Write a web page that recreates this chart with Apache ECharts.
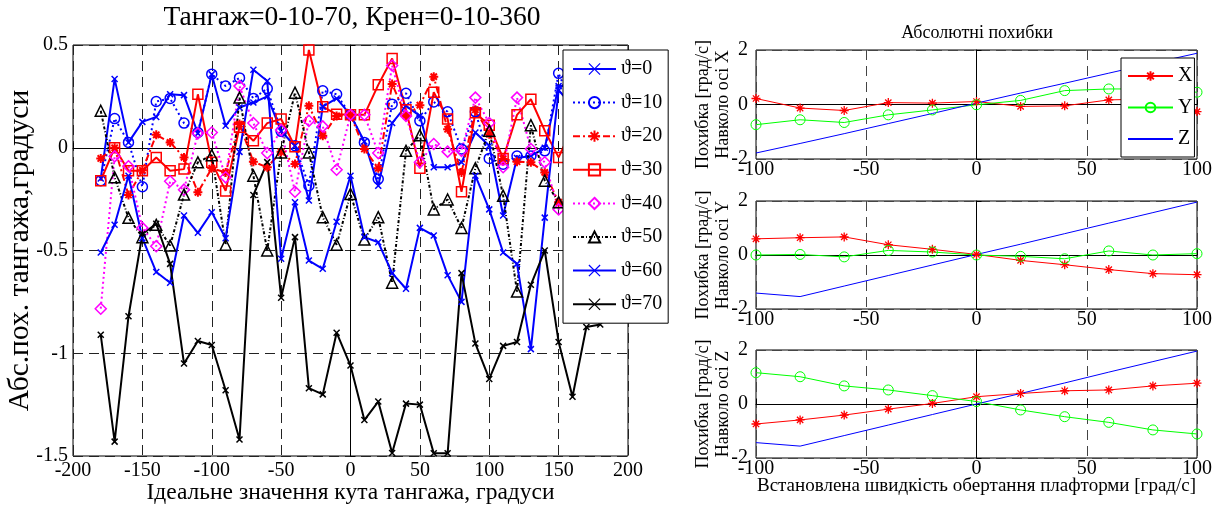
<!DOCTYPE html>
<html><head><meta charset="utf-8">
<script src="https://cdn.jsdelivr.net/npm/echarts/dist/echarts.min.js"></script>
<style>html,body{margin:0;padding:0;background:#fff}#c{width:1227px;height:506px}</style>
</head><body><div id="c"></div>
<script>
// ---------- Left chart data ----------
const angles = [-180,-170,-160,-150,-140,-130,-120,-110,-100,-90,-80,-70,-60,-50,-40,-30,-20,-10,0,10,20,30,40,50,60,70,80,90,100,110,120,130,140,150,160,170,180];
const th0  = [-0.15,0.335,0.026,0.126,0.15,0.26,0.256,0.07,0.357,0.107,0.196,0.22,0.25,0.08,0.01,-0.257,0.2,0.24,0.16,0.03,-0.185,0.12,0.204,0.155,-0.095,-0.095,-0.071,0.074,0.01,-0.33,-0.05,-0.04,0.0,0.3,0.3,0.2,0.1];
const th10 = [-0.16,0.142,0.026,-0.19,0.225,0.24,0.12,0.074,0.358,0.30,0.34,0.24,0.288,0.08,0.01,-0.185,0.277,0.26,0.16,0.026,-0.152,0.212,0.265,0.131,0.223,0.175,-0.006,0.175,-0.052,-0.08,-0.04,-0.04,-0.015,0.362,0.2,0.1,0.05];
const th20 = [-0.052,0.0,-0.23,-0.11,0.063,0.026,-0.047,-0.217,-0.1,-0.12,0.115,-0.068,-0.095,-0.02,-0.079,0.204,0.058,0.155,0.16,-0.006,-0.1,0.31,0.155,0.207,0.346,0.09,-0.12,0.185,0.066,-0.055,-0.068,-0.071,-0.12,-0.265,-0.2,-0.1,-0.1];
const th30 = [-0.16,0.0,-0.112,-0.112,-0.047,-0.112,-0.104,0.26,-0.07,-0.21,0.1,0.034,0.12,0.14,0.005,0.476,0.2,0.163,0.16,0.16,0.306,0.434,0.185,-0.1,0.27,0.14,-0.214,0.17,0.11,-0.052,0.16,0.236,0.083,-0.047,0.1,0.05,0.0];
const th40 = [-0.783,-0.042,-0.09,-0.39,-0.479,-0.163,-0.204,0.07,0.074,-0.144,0.30,0.12,-0.026,0.086,-0.214,0.131,0.104,-0.107,0.16,0.16,-0.026,0.40,0.155,-0.071,0.018,-0.019,-0.015,0.244,0.12,-0.095,0.244,-0.006,-0.071,-0.30,-0.2,-0.1,-0.1];
const th50 = [0.18,-0.144,-0.341,-0.435,-0.375,-0.476,-0.228,-0.071,-0.036,-0.472,0.244,-0.136,-0.5,-0.023,0.268,-0.023,-0.338,-0.472,-0.225,-0.447,-0.338,-0.657,-0.015,0.061,-0.30,-0.252,-0.39,-0.10,0.083,-0.233,-0.70,0.11,-0.16,-0.265,-0.3,-0.3,-0.3];
const th60 = [-0.51,-0.375,-0.136,-0.44,-0.605,-0.657,-0.33,-0.414,-0.314,-0.44,-0.02,0.38,0.325,-0.54,-0.265,-0.549,-0.589,-0.36,-0.136,-0.435,-0.46,-0.61,-0.686,-0.39,-0.427,-0.62,-0.75,-0.136,-0.30,-0.51,-0.565,-0.98,-0.34,0.28,0.2,0.1,0.0];
const th70 = [-0.91,-1.43,-0.82,-0.42,-0.37,-0.565,-1.05,-0.94,-0.96,-1.18,-1.42,-0.23,-0.07,-0.73,-0.435,-1.17,-1.2,-0.9,-1.06,-1.325,-1.235,-1.485,-1.245,-1.25,-1.487,-1.487,-0.61,-0.953,-1.125,-0.964,-0.945,-0.667,-0.5,-0.945,-1.212,-0.872,-0.86];
const leftNames = ['ϑ=0','ϑ=10','ϑ=20','ϑ=30','ϑ=40','ϑ=50','ϑ=60','ϑ=70'];
const leftXTicks = [-200,-150,-100,-50,0,50,100,150,200];
const leftYTicks = [-1.5,-1,-0.5,0,0.5];

// ---------- Right charts data ----------
const rates = [-100,-80,-60,-40,-20,0,20,40,60,80,100];
const axX_X = [0.22,-0.13,-0.22,0.07,0.05,0.11,-0.07,-0.05,0.17,0.2,-0.26];
const axX_Y = [-0.74,-0.56,-0.66,-0.38,-0.2,-0.01,0.15,0.51,0.57,0.57,0.45];
const axX_Z = [-1.78,-1.43,-1.07,-0.7,-0.33,0.05,0.42,0.78,1.15,1.52,1.88];
const axY_X = [0.6,0.64,0.67,0.38,0.21,0.02,-0.2,-0.36,-0.54,-0.69,-0.73];
const axY_Y = [0.0,0.02,-0.07,0.17,0.11,0.0,-0.05,-0.14,0.15,0.0,0.05];
const axY_Z = [-1.41,-1.54,-1.15,-0.76,-0.37,0.02,0.4,0.79,1.18,1.57,1.96];
const axZ_X = [-0.74,-0.59,-0.41,-0.19,0.02,0.27,0.39,0.49,0.52,0.67,0.77];
const axZ_Y = [1.16,1.01,0.67,0.52,0.31,0.09,-0.22,-0.47,-0.68,-0.96,-1.11];
const axZ_Z = [-1.43,-1.56,-1.17,-0.78,-0.39,0.0,0.39,0.78,1.18,1.57,1.96];
const rightXTicks = [-100,-50,0,50,100];
const rightYTicks = [-2,0,2];

const F = '"Liberation Serif","Times New Roman",serif';
const XP = 'path://M0,0L10,10M10,0L0,10';
const SP = 'path://M5,0L5,10M0,5L10,5M1.5,1.5L8.5,8.5M8.5,1.5L1.5,8.5';
const CLEAR = 'rgba(255,255,255,0)';

function ser(name, xs, ys, o) {
  return {
    name, type: 'line', xAxisIndex: o.g, yAxisIndex: o.g,
    data: xs.map((x, i) => [x, ys[i]]),
    symbol: o.sym || 'none', symbolSize: o.size || 8,
    showSymbol: !!o.sym,
    lineStyle: { color: o.c, width: o.w || 2, type: o.dash || 'solid' },
    itemStyle: { color: o.fill || CLEAR, borderColor: o.c, borderWidth: o.bw || 1.5 },
    emphasis: { disabled: true }, z: o.z || 2
  };
}

const grids = [
  { left: 73, top: 45, width: 555, height: 411 },
  { left: 756, top: 50, width: 441, height: 109 },
  { left: 756, top: 201, width: 441, height: 108 },
  { left: 756, top: 350, width: 441, height: 108 }
].map(g => Object.assign(g, { show: true, borderColor: '#000', borderWidth: 1, backgroundColor: 'transparent',
  containLabel: false, outerBoundsMode: 'none' }));

const axisCommon = {
  type: 'value',
  nameMoveOverlap: false,
  axisLine: { show: true, lineStyle: { color: '#000', width: 1 } },
  axisTick: { show: true, inside: true, length: 5, lineStyle: { color: '#000' } },
  axisLabel: { color: '#000', fontFamily: F, fontSize: 20 },
  nameTextStyle: { color: '#000', fontFamily: F }
};
function ax(extra) { return echarts.util.merge(JSON.parse(JSON.stringify(axisCommon)), extra, true); }

const leftDash = { show: true, lineStyle: { color: '#222', type: [10, 6], width: 1 } };
const rightDash = { show: true, lineStyle: { color: '#444', type: [10, 6], width: 1 } };

const xAxes = [
  ax({ gridIndex: 0, min: leftXTicks[0], max: leftXTicks[leftXTicks.length - 1], interval: 50,
       axisLabel: { margin: 5 }, splitLine: leftDash,
       name: 'Ідеальне значення кута тангажа, градуси', nameLocation: 'middle', nameGap: 25,
       nameTextStyle: { fontSize: 23.5 } }),
  ax({ gridIndex: 1, min: -100, max: 100, interval: 50, axisLabel: { margin: 1 }, splitLine: rightDash }),
  ax({ gridIndex: 2, min: -100, max: 100, interval: 50, axisLabel: { margin: 1 }, splitLine: rightDash }),
  ax({ gridIndex: 3, min: -100, max: 100, interval: 50, axisLabel: { margin: 1 }, splitLine: rightDash,
       name: 'Встановлена швидкість обертання плафторми [град/с]', nameLocation: 'middle', nameGap: 19,
       nameTextStyle: { fontSize: 19 } })
];
const yAxes = [
  ax({ gridIndex: 0, min: leftYTicks[0], max: leftYTicks[leftYTicks.length - 1], interval: 0.5,
       axisLabel: { margin: 5 }, splitLine: leftDash,
       name: 'Абс.пох. тангажа,градуси', nameLocation: 'middle', nameRotate: 90, nameGap: 38,
       nameTextStyle: { fontSize: 29.5 } })
];
['X', 'Y', 'Z'].forEach((a, i) => {
  yAxes.push(ax({ gridIndex: i + 1, min: -2, max: 2, interval: 2, axisLabel: { margin: 8 }, splitLine: rightDash,
    name: 'Похибка [град/с]\nНавколо осі ' + a, nameLocation: 'middle', nameRotate: 90, nameGap: 23,
    nameTextStyle: { fontSize: 18, lineHeight: 20 } }));
});

const series = [
  ser(leftNames[0], angles, th0, { g: 0, c: '#0000ff', sym: XP, size: 6, fill: '#0000ff' }),
  ser(leftNames[1], angles, th10, { g: 0, c: '#0000ff', dash: [2, 3], sym: 'circle', size: 10 }),
  ser(leftNames[2], angles, th20, { g: 0, c: '#ff0000', dash: [7, 3, 2, 3], sym: SP, size: 9, fill: '#ff0000', bw: 2 }),
  ser(leftNames[3], angles, th30, { g: 0, c: '#ff0000', sym: 'rect', size: 10 }),
  ser(leftNames[4], angles, th40, { g: 0, c: '#ff00ff', dash: [2, 3], sym: 'diamond', size: 11 }),
  ser(leftNames[5], angles, th50, { g: 0, c: '#000000', dash: [3, 2, 1, 2], sym: 'triangle', size: 11 }),
  ser(leftNames[6], angles, th60, { g: 0, c: '#0000ff', sym: XP, size: 6, fill: '#0000ff' }),
  ser(leftNames[7], angles, th70, { g: 0, c: '#000000', sym: XP, size: 6, fill: '#000000' })
];
const rightSets = [[axX_X, axX_Y, axX_Z], [axY_X, axY_Y, axY_Z], [axZ_X, axZ_Y, axZ_Z]];
rightSets.forEach((s, i) => {
  series.push(ser('X', rates, s[0], { g: i + 1, c: '#ff0000', w: 1, sym: SP, size: 9, fill: '#ff0000', bw: 1.3 }));
  series.push(ser('Y', rates, s[1], { g: i + 1, c: '#00ff00', w: 1, sym: 'circle', size: 10, bw: 1 }));
  series.push(ser('Z', rates, s[2], { g: i + 1, c: '#0000ff', w: 1 }));
});

const legendText = { fontFamily: F, fontSize: 20, color: '#000' };
const option = {
  animation: false,
  backgroundColor: '#fff',
  grid: grids, xAxis: xAxes, yAxis: yAxes, series,
  legend: [
    { data: leftNames.map(n => ({ name: n, itemStyle: (n === 'ϑ=0' || n === 'ϑ=60' || n === 'ϑ=70') ? { borderWidth: 1.2 } : {} })),
      orient: 'vertical', left: 563, top: 50, padding: [9, 6, 9, 9],
      itemWidth: 43, itemHeight: 14, itemGap: 13.6, selectedMode: false,
      backgroundColor: '#fff', borderColor: '#000', borderWidth: 1, borderRadius: 0,
      textStyle: legendText, z: 10 },
    { data: [{ name: 'X' }, { name: 'Y' }, { name: 'Z', itemStyle: { color: CLEAR, borderColor: CLEAR, borderWidth: 0 } }],
      orient: 'vertical', left: 1121, top: 58, padding: [8, 2, 8, 6],
      itemWidth: 45, itemHeight: 12, itemGap: 11.5, selectedMode: false,
      backgroundColor: '#fff', borderColor: '#000', borderWidth: 1, borderRadius: 0,
      textStyle: legendText, z: 10 }
  ],
  graphic: [
    { type: 'text', x: 352, y: 18, style: { text: 'Тангаж=0-10-70, Крен=0-10-360', font: 'normal 27.5px ' + F, fill: '#000', align: 'center', verticalAlign: 'middle', textAlign: 'center', textVerticalAlign: 'middle' } },
    { type: 'text', x: 977, y: 33, style: { text: 'Абсолютні похибки', font: 'normal 18px ' + F, fill: '#000', align: 'center', verticalAlign: 'middle', textAlign: 'center', textVerticalAlign: 'middle' } }
  ]
};
const chart = echarts.init(document.getElementById('c'), null, { renderer: 'canvas' });
chart.setOption(option);
</script></body></html>
